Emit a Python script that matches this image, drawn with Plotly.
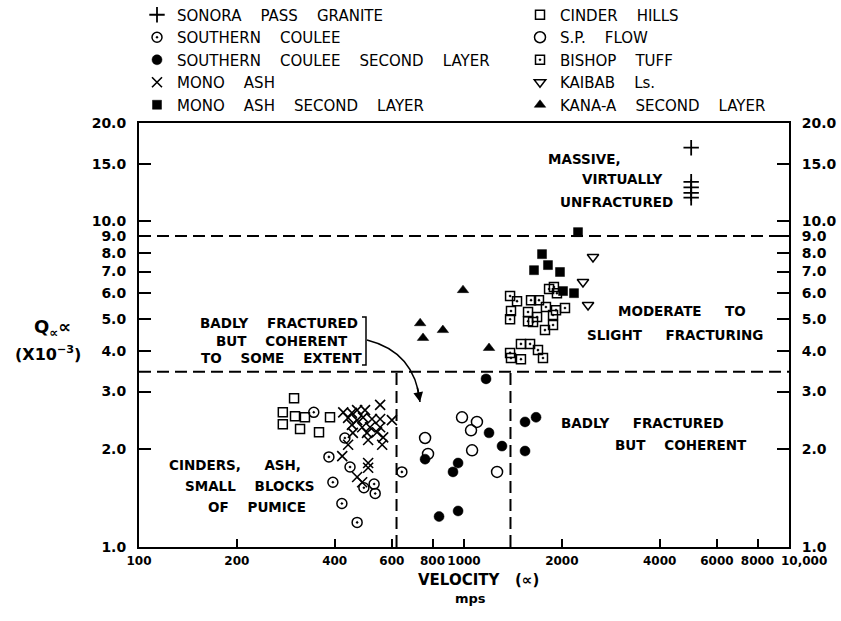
import math
import plotly.graph_objects as go

# ---------------- data ----------------
sonora_x = [5000, 5000, 5000, 5000, 5000]
sonora_y = [16.8, 13.2, 12.7, 12.2, 11.8]

scoulee_x = [345, 430, 384, 446, 395, 492, 529, 533, 421, 469, 644]
scoulee_y = [2.59, 2.16, 1.89, 1.76, 1.58, 1.52, 1.56, 1.46, 1.36, 1.19, 1.70]

scoulee2_x = [1169, 1194, 1309, 959, 925, 838, 959, 1541, 1666, 1541, 759]
scoulee2_y = [3.28, 2.24, 2.04, 1.81, 1.70, 1.24, 1.29, 2.42, 2.50, 1.97, 1.86]

mono_x = [425, 452, 469, 496, 552, 440, 469, 489, 521, 552, 600, 452, 486, 514,
          552, 455, 503, 540, 564, 507, 560, 440, 422, 507, 507, 469, 486]
mono_y = [2.59, 2.58, 2.63, 2.63, 2.73, 2.49, 2.45, 2.50, 2.47, 2.47, 2.45, 2.37, 2.33, 2.33,
          2.33, 2.24, 2.24, 2.25, 2.17, 2.13, 2.06, 2.06, 1.90, 1.81, 1.75, 1.64, 1.58]

mono2_x = [2243, 1738, 1813, 1642, 1974, 2017, 2180]
mono2_y = [9.25, 7.92, 7.33, 7.07, 6.98, 6.10, 6.01]

cinder_x = [300, 277, 302, 324, 277, 313, 358, 387]
cinder_y = [2.86, 2.59, 2.52, 2.50, 2.38, 2.30, 2.25, 2.50]

spflow_x = [986, 1096, 1051, 759, 1059, 775, 1264]
spflow_y = [2.50, 2.42, 2.28, 2.16, 1.98, 1.93, 1.70]

bishop_x = [1386, 1456, 1608, 1701, 1395, 1386, 1574, 1574, 1678, 1787, 1919, 2045, 1879,
            1879, 1775, 1891, 1827, 1932, 1631, 1386, 1497, 1597, 1689, 1395, 1497, 1750]
bishop_y = [5.89, 5.68, 5.72, 5.72, 5.30, 5.00, 5.26, 4.93, 5.08, 5.45, 5.33, 5.41, 5.15,
            4.80, 4.63, 6.28, 6.19, 6.01, 4.90, 3.94, 4.20, 4.20, 4.02, 3.80, 3.77, 3.80]

kaibab_x = [2494, 2323, 2408]
kaibab_y = [7.76, 6.50, 5.53]

kana_x = [733, 748, 861, 993, 1194]
kana_y = [4.86, 4.38, 4.63, 6.14, 4.08]

# region boundaries
q_upper = 9.0
q_lower = 3.45
v_left = 620
v_right = 1390
x_min, x_max = 100, 10000
y_min, y_max = 1.0, 20.0

S = "\u00a0"
x_tickvals = [100, 200, 400, 600, 800, 1000, 2000, 4000, 6000, 8000, 10000]
x_ticktext = ["100", "200", "400", "600", "800", "1000", "2000", "4000", "6000", "8000", ""]
x_last_label = "10,000"   # drawn slightly right of its tick, as in the original
y_tickvals = [1, 2, 3, 4, 5, 6, 7, 8, 9, 10, 15, 20]
y_ticktext = ["1.0", "2.0", "3.0", "4.0", "5.0", "6.0", "7.0", "8.0", "9.0", "10.0", "15.0", "20.0"]

G = S * 4     # legend word gap
GA = S * 5    # annotation word gap
GB = S * 4

# ---------------- geometry helpers (plot area in px) ----------------
W, H = 841, 621
L, R, T, B = 139, 52, 123, 74
PW, PH = W - L - R, H - T - B


def px(x):
    return (x - L) / PW


def py(y):
    return (H - B - y) / PH


fig = go.Figure()
BLK = "black"
FONT = "DejaVu Sans"

# boundaries (dashed)
dash = "12px,6px"
fig.add_trace(go.Scatter(x=[x_min, x_max], y=[q_upper, q_upper], mode="lines",
                         line=dict(color=BLK, width=2, dash=dash), showlegend=False,
                         hoverinfo="skip"))
fig.add_trace(go.Scatter(x=[x_min, x_max], y=[q_lower, q_lower], mode="lines",
                         line=dict(color=BLK, width=2, dash=dash), showlegend=False,
                         hoverinfo="skip"))
fig.add_trace(go.Scatter(x=[v_left, v_left, None, v_right, v_right],
                         y=[y_min, q_lower, None, y_min, q_lower], mode="lines",
                         line=dict(color=BLK, width=2, dash=dash), showlegend=False,
                         hoverinfo="skip"))
fig.add_trace(go.Scatter(x=[x_min, x_max], y=[q_upper, q_upper], mode="lines", yaxis="y2",
                         line=dict(color=BLK, width=2, dash=dash), showlegend=False,
                         hoverinfo="skip"))


def add(name, xs, ys, symbol, size, legend, lw=1.5):
    fig.add_trace(go.Scatter(
        x=xs, y=ys, mode="markers", name=name, legend=legend,
        marker=dict(symbol=symbol, size=size, color=BLK,
                    line=dict(color=BLK, width=lw)),
    ))


add("SONORA" + G + "PASS" + G + "GRANITE", sonora_x, sonora_y, "cross-thin", 11, "legend", 1.8)
add("SOUTHERN" + G + "COULEE", scoulee_x, scoulee_y, "circle-open-dot", 10, "legend")
add("SOUTHERN" + G + "COULEE" + G + "SECOND" + G + "LAYER", scoulee2_x, scoulee2_y, "circle", 10, "legend", 0.5)
add("MONO" + G + "ASH", mono_x, mono_y, "x-thin", 10, "legend", 1.6)
add("MONO" + G + "ASH" + G + "SECOND" + G + "LAYER", mono2_x, mono2_y, "square", 9, "legend", 0.5)
add("CINDER" + G + "HILLS", cinder_x, cinder_y, "square-open", 9, "legend2")
add("S.P." + G + "FLOW", spflow_x, spflow_y, "circle-open", 11, "legend2")
add("BISHOP" + G + "TUFF", bishop_x, bishop_y, "square-open-dot", 9, "legend2")
add("KAIBAB" + G + "Ls.", kaibab_x, kaibab_y, "triangle-down-open", 10, "legend2")
add("KANA-A" + G + "SECOND" + G + "LAYER", kana_x, kana_y, "triangle-up", 10, "legend2", 0.5)

texts = [
    ("MASSIVE,", 546, 159),
    ("VIRTUALLY", 580, 179),
    ("UNFRACTURED", 558, 202),
    ("MODERATE" + GA + "TO", 616, 311),
    ("SLIGHT" + GA + "FRACTURING", 585, 335),
    ("BADLY" + GA + "FRACTURED", 559, 423),
    ("BUT" + GB + "COHERENT", 613, 445),
    ("BADLY" + GB + "FRACTURED", 198, 323),
    ("BUT" + GB + "COHERENT", 214, 341),
    ("TO" + GB + "SOME" + GB + "EXTENT", 199, 358),
    ("CINDERS," + GA + "ASH,", 167, 465),
    ("SMALL" + GB + "BLOCKS", 183, 486),
    ("OF" + GB + "PUMICE", 206, 507),
]
annotations = []
for t, x, y in texts:
    annotations.append(dict(text=t, x=px(x), y=py(y), xref="paper", yref="paper",
                            xanchor="left", yanchor="middle", showarrow=False,
                            font=dict(family=FONT, size=13.5, color=BLK, weight="bold")))

# last x tick label
annotations.append(dict(text=x_last_label, x=px(779), y=py(561), xref="paper", yref="paper",
                        xanchor="left", yanchor="middle", showarrow=False,
                        font=dict(family=FONT, size=12, color=BLK, weight="bold")))

# axis titles
annotations.append(dict(text="Q<sub>∝</sub>∝", x=px(52), y=py(328), xref="paper", yref="paper",
                        xanchor="center", yanchor="middle", showarrow=False,
                        font=dict(family=FONT, size=18, color=BLK, weight="bold")))
annotations.append(dict(text="(X10<sup>−3</sup>)", x=px(48), y=py(353), xref="paper", yref="paper",
                        xanchor="center", yanchor="middle", showarrow=False,
                        font=dict(family=FONT, size=16, color=BLK, weight="bold")))
annotations.append(dict(text="VELOCITY" + S * 3 + "(∝)", x=px(478), y=py(580), xref="paper", yref="paper",
                        xanchor="center", yanchor="middle", showarrow=False,
                        font=dict(family=FONT, size=15, color=BLK, weight="bold")))
annotations.append(dict(text="mps", x=px(470), y=py(598), xref="paper", yref="paper",
                        xanchor="center", yanchor="middle", showarrow=False,
                        font=dict(family=FONT, size=13, color=BLK, weight="bold")))
# arrow head for curved pointer
annotations.append(dict(text="", x=px(420), y=py(402), xref="paper", yref="paper",
                        ax=-3, ay=-16, showarrow=True, arrowhead=2, arrowsize=1.3,
                        arrowwidth=1.5, arrowcolor=BLK, standoff=0))

shapes = [
    dict(type="path", xref="paper", yref="paper",
         path=f"M {px(362)},{py(317)} L {px(366)},{py(317)} L {px(366)},{py(365)} L {px(362)},{py(365)}",
         line=dict(color=BLK, width=1.5)),
    dict(type="path", xref="paper", yref="paper",
         path=f"M {px(367)},{py(340)} Q {px(415)},{py(352)} {px(420)},{py(402)}",
         line=dict(color=BLK, width=1.5)),
]

axis_common = dict(type="log", showgrid=False, zeroline=False, showline=True,
                   linecolor=BLK, linewidth=2, ticks="inside", tickcolor=BLK, tickwidth=2)

fig.update_layout(
    width=W, height=H,
    margin=dict(l=L, r=R, t=T, b=B, autoexpand=False),
    paper_bgcolor="white", plot_bgcolor="white",
    font=dict(family=FONT, color=BLK, size=14),
    xaxis=dict(**axis_common, range=[math.log10(x_min), math.log10(x_max)],
               tickmode="array", tickvals=x_tickvals, ticktext=x_ticktext,
               tickangle=0, ticklen=8, mirror=True, ticklabelstandoff=2,
               tickfont=dict(family=FONT, size=12, color=BLK, weight="bold")),
    yaxis=dict(**axis_common, range=[math.log10(y_min), math.log10(y_max)],
               tickmode="array", tickvals=y_tickvals, ticktext=y_ticktext,
               ticklen=12, mirror=True, ticklabelstandoff=8,
               tickfont=dict(family=FONT, size=14, color=BLK, weight="bold")),
    yaxis2=dict(**axis_common, range=[math.log10(y_min), math.log10(y_max)],
                overlaying="y", side="right",
                tickmode="array", tickvals=y_tickvals, ticktext=y_ticktext,
                ticklen=12, ticklabelstandoff=8,
                tickfont=dict(family=FONT, size=14, color=BLK, weight="bold")),
    legend=dict(x=px(137), y=py(-1.5), xanchor="left", yanchor="top",
                bgcolor="rgba(0,0,0,0)", font=dict(family=FONT, size=15, color=BLK),
                itemsizing="trace", traceorder="normal"),
    legend2=dict(x=px(520), y=py(-1.5), xanchor="left", yanchor="top",
                 bgcolor="rgba(0,0,0,0)", font=dict(family=FONT, size=15, color=BLK),
                 itemsizing="trace", traceorder="normal"),
    annotations=annotations,
    shapes=shapes,
)

fig.write_html("out.html", config={"displayModeBar": False},
               post_script="document.body.style.margin='0px';")
